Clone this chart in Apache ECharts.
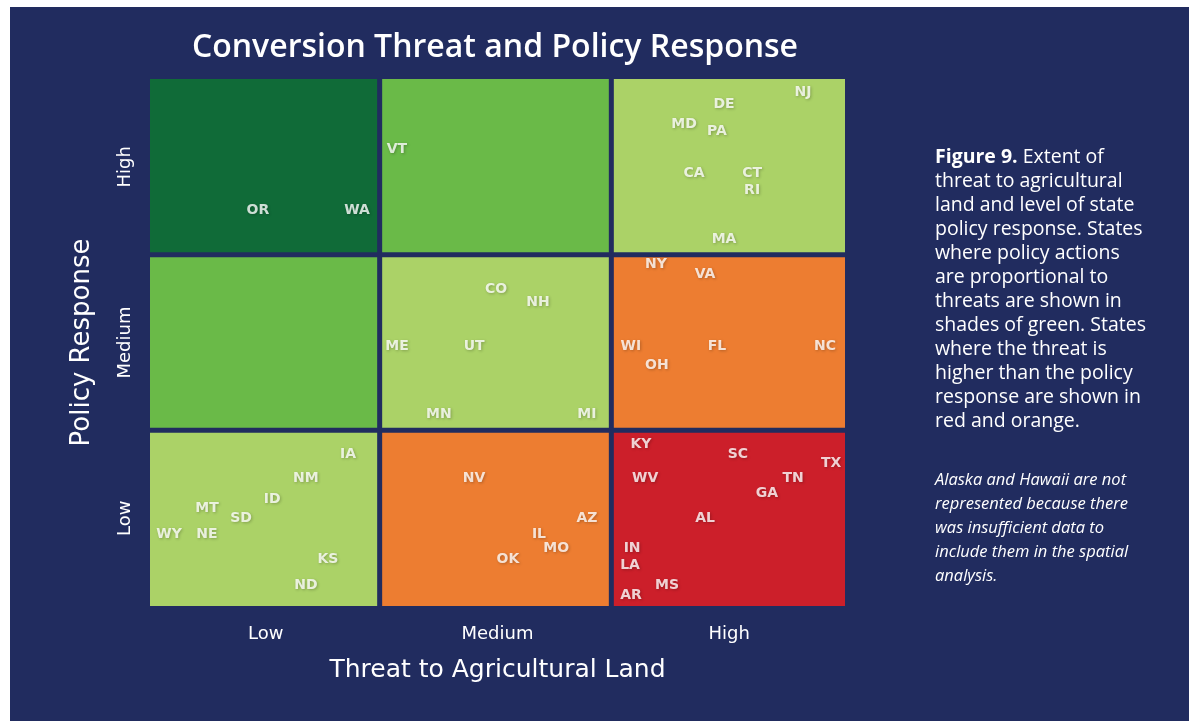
<!DOCTYPE html>
<html>
<head>
<meta charset="utf-8">
<title>Conversion Threat and Policy Response</title>
<script src="https://cdn.jsdelivr.net/npm/echarts@6/dist/echarts.min.js"></script>
<style>
  html, body { margin: 0; padding: 0; background: #ffffff; }
  #chart { width: 1189px; height: 721px; }
</style>
</head>
<body>
<div id="chart"></div>
<script>
// level names on both axes
var threatLevels = ['Low', 'Medium', 'High'];
var policyLevels = ['Low', 'Medium', 'High'];

// matrix cells: threat index, policy index, tone
var cellThreat = [0, 1, 2, 0, 1, 2, 0, 1, 2];
var cellPolicy = [0, 0, 0, 1, 1, 1, 2, 2, 2];
var cellTone   = ['match', 'gap', 'severe', 'over', 'match', 'gap', 'strong', 'over', 'match'];

// states placed inside the matrix (threat 0-3, policy 0-3)
var stateNames  = ['OR', 'WA', 'VT', 'NJ', 'DE', 'MD', 'PA', 'CA', 'CT', 'RI', 'MA',
                   'CO', 'NH', 'ME', 'UT', 'MN', 'MI',
                   'NY', 'VA', 'WI', 'FL', 'NC', 'OH',
                   'IA', 'NM', 'ID', 'MT', 'SD', 'WY', 'NE', 'KS', 'ND',
                   'NV', 'AZ', 'IL', 'MO', 'OK',
                   'KY', 'SC', 'TX', 'WV', 'TN', 'GA', 'AL', 'IN', 'LA', 'MS', 'AR'];
var stateThreat = [0.466, 0.894, 1.066, 2.819, 2.478, 2.305, 2.447, 2.348, 2.599, 2.599, 2.478,
                   1.494, 1.675, 1.066, 1.399, 1.247, 1.886,
                   2.184, 2.396, 2.076, 2.447, 2.914, 2.188,
                   0.855, 0.673, 0.527, 0.246, 0.393, 0.082, 0.246, 0.768, 0.673,
                   1.399, 1.886, 1.679, 1.753, 1.545,
                   2.119, 2.538, 2.940, 2.137, 2.776, 2.663, 2.396, 2.081, 2.072, 2.232, 2.076];
var statePolicy = [2.254, 2.254, 2.601, 2.926, 2.858, 2.744, 2.704, 2.465, 2.465, 2.368, 2.089,
                   1.805, 1.731, 1.480, 1.480, 1.093, 1.093,
                   1.947, 1.890, 1.480, 1.480, 1.480, 1.372,
                   0.865, 0.729, 0.609, 0.558, 0.501, 0.410, 0.410, 0.268, 0.120,
                   0.729, 0.501, 0.410, 0.330, 0.268,
                   0.922, 0.865, 0.814, 0.729, 0.729, 0.643, 0.501, 0.330, 0.233, 0.120, 0.063];

var toneColors = {
  strong: '#106b38',
  over: '#6aba48',
  match: '#abd267',
  gap: '#ed7d31',
  severe: '#cc1f2a'
};

var NAVY = '#212c5f';
var GAP = 2.5;

var chart = echarts.init(document.getElementById('chart'));

var cellData = cellThreat.map(function (t, i) {
  return { value: [t, cellPolicy[i]], itemStyle: { color: toneColors[cellTone[i]] } };
});
var stateData = stateNames.map(function (n, i) {
  return { name: n, value: [stateThreat[i], statePolicy[i]] };
});

function levelLabel(levels) {
  return function (v) {
    var idx = Math.round(v - 0.5);
    if (Math.abs(v - idx - 0.5) < 1e-6 && levels[idx]) return levels[idx];
    return '';
  };
}

var option = {
  backgroundColor: '#ffffff',
  animation: false,
  graphic: [
    {
      type: 'rect', z: -100, silent: true,
      shape: { x: 10, y: 7, width: 1179, height: 714 },
      style: { fill: NAVY }
    },
    {
      type: 'text', x: 495, y: 48,
      style: {
        text: 'Conversion Threat and Policy Response',
        fill: '#ffffff',
        font: '600 32px "Open Sans", sans-serif',
        textAlign: 'center',
        textVerticalAlign: 'middle'
      }
    },
    {
      type: 'text', x: 935, y: 145,
      style: {
        text: '{b|Figure 9.} Extent of\nthreat to agricultural\nland and level of state\npolicy response. States\nwhere policy actions\nare proportional to\nthreats are shown in\nshades of green. States\nwhere the threat is\nhigher than the policy\nresponse are shown in\nred and orange.',
        fill: '#ffffff',
        font: '500 19.5px "Open Sans", sans-serif',
        lineHeight: 24,
        rich: {
          b: { fontWeight: 'bold', fontSize: 19.5, fill: '#ffffff', fontFamily: 'Open Sans', lineHeight: 24 }
        }
      }
    },
    {
      type: 'text', x: 935, y: 468,
      style: {
        text: 'Alaska and Hawaii are not\nrepresented because there\nwas insufficient data to\ninclude them in the spatial\nanalysis.',
        fill: '#ffffff',
        font: 'italic 500 16.5px "Open Sans", sans-serif',
        lineHeight: 24
      }
    }
  ],
  grid: { left: 150, top: 79, width: 695, height: 527 },
  xAxis: {
    type: 'value', min: 0, max: 3, interval: 0.5,
    axisLine: { show: false }, axisTick: { show: false }, splitLine: { show: false },
    axisLabel: {
      color: '#ffffff', fontSize: 18, fontFamily: 'DejaVu Sans',
      margin: 19, formatter: levelLabel(threatLevels)
    },
    name: 'Threat to Agricultural Land',
    nameLocation: 'middle', nameGap: 52,
    nameTextStyle: { color: '#ffffff', fontSize: 25, fontFamily: 'DejaVu Sans' }
  },
  yAxis: {
    type: 'value', min: 0, max: 3, interval: 0.5,
    axisLine: { show: false }, axisTick: { show: false }, splitLine: { show: false },
    axisLabel: {
      color: '#ffffff', fontSize: 18, fontFamily: 'DejaVu Sans',
      rotate: 90, margin: 16, formatter: levelLabel(policyLevels)
    },
    name: 'Policy Response',
    nameLocation: 'middle', nameGap: 55, nameRotate: 90,
    nameTextStyle: { color: '#ffffff', fontSize: 26, fontFamily: 'DejaVu Sans' }
  },
  series: [
    {
      type: 'custom',
      data: cellData,
      silent: true,
      renderItem: function (params, api) {
        var t = api.value(0), p = api.value(1);
        var tl = api.coord([t, p + 1]);
        var br = api.coord([t + 1, p]);
        var x0 = tl[0] + (t > 0 ? GAP : 0) - (t > 0 ? 2 : 0);
        var x1 = br[0] - (t < 2 ? GAP : 0) - (t < 2 ? 2 : 0);
        var y0 = tl[1] + (p < 2 ? GAP : 0);
        var y1 = br[1] - (p > 0 ? GAP : 0);
        return {
          type: 'rect',
          shape: { x: x0, y: y0, width: x1 - x0, height: y1 - y0 },
          style: { fill: api.visual('color') }
        };
      }
    },
    {
      type: 'scatter',
      data: stateData,
      symbolSize: 1,
      itemStyle: { color: 'rgba(0,0,0,0)' },
      z: 5,
      label: {
        show: true,
        position: 'inside',
        formatter: '{b}',
        color: '#ffffff',
        fontSize: 14,
        fontWeight: 'bold',
        fontFamily: 'DejaVu Sans',
        textShadowColor: 'rgba(0,0,0,0.3)',
        textShadowBlur: 3,
        textShadowOffsetX: 1,
        textShadowOffsetY: 1
      }
    }
  ]
};

chart.setOption(option);
window.addEventListener('resize', function () { chart.resize(); });
</script>
</body>
</html>
